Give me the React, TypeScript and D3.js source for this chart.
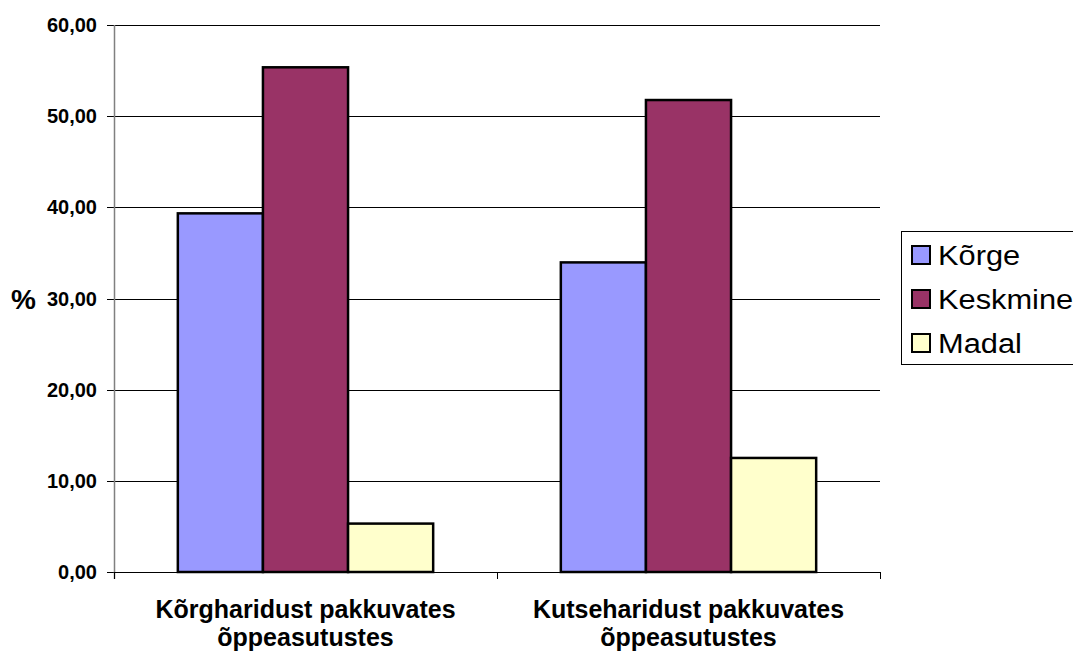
import React from "react";
import * as d3 from "d3";

const categories: string[][] = [
  ["Kõrgharidust pakkuvates", "õppeasutustes"],
  ["Kutseharidust pakkuvates", "õppeasutustes"],
];
const seriesNames = ["Kõrge", "Keskmine", "Madal"];
const seriesColors = ["#9999FF", "#993366", "#FFFFCC"];
const korge = [39.34, 33.96];
const keskmine = [55.36, 51.77];
const madal = [5.31, 12.51];
const yTicks = [0, 10, 20, 30, 40, 50, 60];

export default function App() {
  const W = 1073;
  const H = 654;
  const left = 114;
  const right = 880;
  const top = 25;
  const bottom = 572;
  const values = [korge, keskmine, madal];

  const x0 = d3
    .scaleBand<number>()
    .domain(categories.map((_, i) => i))
    .range([left, right])
    .paddingInner(0)
    .paddingOuter(0);
  const bw = x0.bandwidth();
  const gap = 1.5;
  const barW = bw / (seriesNames.length + gap);
  const x1 = d3
    .scaleBand<number>()
    .domain(seriesNames.map((_, i) => i))
    .range([(barW * gap) / 2, bw - (barW * gap) / 2])
    .padding(0);
  const y = d3.scaleLinear().domain([0, 60]).range([bottom, top]);
  const fmt = (v: number) => v.toFixed(2).replace(".", ",");
  const font = "'Liberation Sans', Arial, sans-serif";

  const legendX = 901;
  const legendTop = 231;
  const legendBaselines = [265, 309, 353];

  return (
    <svg
      width={W}
      height={H}
      style={{ position: "absolute", left: 0, top: 0, background: "#fff" }}
      fontFamily={font}
    >
      <rect x={0} y={0} width={W} height={H} fill="#fff" />
      {/* gridlines */}
      {yTicks.map((t) => (
        <line
          key={"g" + t}
          x1={left}
          x2={right}
          y1={Math.round(y(t)) + 0.5}
          y2={Math.round(y(t)) + 0.5}
          stroke="#000"
          strokeWidth={1}
        />
      ))}
      {/* y tick marks and labels */}
      {yTicks.map((t) => (
        <g key={"t" + t}>
          <line
            x1={107}
            x2={left}
            y1={Math.round(y(t)) + 0.5}
            y2={Math.round(y(t)) + 0.5}
            stroke="#000"
          />
          <text
            x={97}
            y={y(t) + 7}
            textAnchor="end"
            fontSize={20}
            fontWeight="bold"
            fill="#000"
          >
            {fmt(t)}
          </text>
        </g>
      ))}
      {/* y axis */}
      <line x1={left + 0.5} x2={left + 0.5} y1={top} y2={bottom + 7} stroke="#808080" strokeWidth={1.5} />
      <text x={11} y={309} fontSize={28} fontWeight="bold" fill="#000">
        %
      </text>
      {/* bars */}
      {categories.map((_, ci) => (
        <g key={"c" + ci} transform={`translate(${x0(ci)},0)`}>
          {seriesNames.map((_, si) => (
            <rect
              key={si}
              x={x1(si)}
              y={y(values[si][ci])}
              width={x1.bandwidth()}
              height={y(0) - y(values[si][ci])}
              fill={seriesColors[si]}
              stroke="#000"
              strokeWidth={2.5}
            />
          ))}
        </g>
      ))}
      {/* x axis */}
      <line x1={left} x2={right} y1={bottom + 0.5} y2={bottom + 0.5} stroke="#000" strokeWidth={1} />
      {[left, ...categories.map((_, i) => (x0(i) as number) + bw)].map((xv, i) => (
        <line key={"xt" + i} x1={xv + 0.5} x2={xv + 0.5} y1={bottom} y2={bottom + 7} stroke="#000" />
      ))}
      {/* category labels */}
      {categories.map((lines, ci) => (
        <text
          key={"cl" + ci}
          textAnchor="middle"
          fontSize={25}
          fontWeight="bold"
          fill="#000"
        >
          {lines.map((l, li) => (
            <tspan key={li} x={(x0(ci) as number) + bw / 2} y={618 + li * 28}>
              {l}
            </tspan>
          ))}
        </text>
      ))}
      {/* legend */}
      <rect
        x={legendX + 0.5}
        y={legendTop + 0.5}
        width={W - legendX + 5}
        height={133}
        fill="#fff"
        stroke="#000"
        strokeWidth={1}
      />
      {seriesNames.map((s, si) => (
        <g key={"l" + si}>
          <rect
            x={912}
            y={legendBaselines[si] - 19}
            width={18}
            height={18}
            fill={seriesColors[si]}
            stroke="#000"
            strokeWidth={2}
          />
          <text
            transform={`translate(938,${legendBaselines[si]}) scale(1.1,1)`}
            fontSize={28}
            fill="#000"
          >
            {s}
          </text>
        </g>
      ))}
    </svg>
  );
}
